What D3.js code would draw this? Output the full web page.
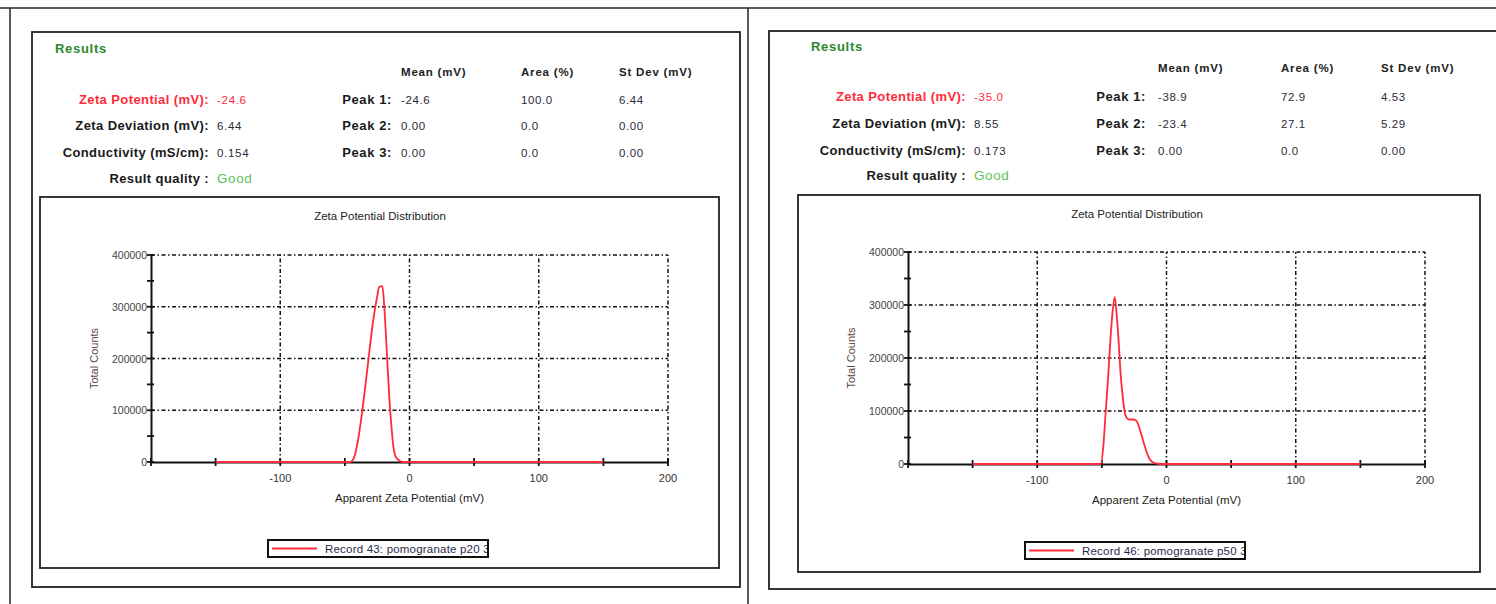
<!DOCTYPE html>
<html>
<head>
<meta charset="utf-8">
<script src="https://cdn.jsdelivr.net/npm/d3@7"></script>
<style>
  html, body { margin: 0; padding: 0; background: #fff; }
  svg { display: block; }
  text { font-family: "Liberation Sans", Arial, sans-serif; }
</style>
</head>
<body>
<svg id="sheet" width="1496" height="604"></svg>
<script>
// ---- Record 43: pomogranate p20 ----
const rec43Label = "Record 43: pomogranate p20 3";
const rec43Mv = [-150, -46, -43, -40, -37, -34, -31, -28, -25, -23.5, -21, -19.5, -17.5, -15.5, -14, -12.5, -11, -8, -5, 150];
const rec43Counts = [0, 0, 8000, 40000, 90000, 150000, 215000, 275000, 320000, 338000, 340000, 300000, 210000, 120000, 70000, 30000, 12000, 3000, 0, 0];
const rec43Summary = ["-24.6", "6.44", "0.154", "Good"];
const rec43Peaks = [["-24.6", "100.0", "6.44"], ["0.00", "0.0", "0.00"], ["0.00", "0.0", "0.00"]];

// ---- Record 46: pomogranate p50 ----
const rec46Label = "Record 46: pomogranate p50 3";
const rec46Mv = [-150, -51, -49, -47, -45, -43.5, -42, -40, -38.5, -37, -35.5, -34, -32.5, -31, -29, -26, -23.5, -21, -19, -17, -15, -13, -11, -8, -5, 150];
const rec46Counts = [0, 0, 30000, 100000, 170000, 230000, 280000, 315000, 280000, 230000, 170000, 130000, 100000, 88000, 84000, 84000, 82000, 68000, 52000, 35000, 20000, 9000, 4000, 1000, 0, 0];
const rec46Summary = ["-35.0", "8.55", "0.173", "Good"];
const rec46Peaks = [["-38.9", "72.9", "4.53"], ["-23.4", "27.1", "5.29"], ["0.00", "0.0", "0.00"]];

// ---- shared labels and ticks ----
const summaryLabels = ["Zeta Potential (mV):", "Zeta Deviation (mV):", "Conductivity (mS/cm):", "Result quality :"];
const peakLabels = ["Peak 1:", "Peak 2:", "Peak 3:"];
const peakHeaders = ["Mean (mV)", "Area (%)", "St Dev (mV)"];
const xMajorTicks = [-100, 0, 100, 200];
const xMinorTicks = [-200, -150, -100, -50, 0, 50, 100, 150, 200];
const yMajorTicks = [0, 100000, 200000, 300000, 400000];
const yMinorTicks = [0, 50000, 100000, 150000, 200000, 250000, 300000, 350000, 400000];
const chartTitle = "Zeta Potential Distribution";
const xTitle = "Apparent Zeta Potential (mV)";
const yTitle = "Total Counts";

const RED = "#ff2a3a";
const INK = "#2b2b3a";

const svg = d3.select("#sheet");

// page frame
svg.append("line").attr("x1", 0).attr("x2", 1496).attr("y1", 8).attr("y2", 8)
  .attr("stroke", "#222").attr("stroke-width", 1.5);
svg.append("line").attr("x1", 10).attr("x2", 10).attr("y1", 8).attr("y2", 604)
  .attr("stroke", "#222").attr("stroke-width", 1.5);
svg.append("line").attr("x1", 748).attr("x2", 748).attr("y1", 8).attr("y2", 604)
  .attr("stroke", "#222").attr("stroke-width", 1.5);

function drawPanel(p) {
  const g = svg.append("g");

  // results box
  g.append("rect").attr("x", p.box[0]).attr("y", p.box[1])
    .attr("width", p.box[2] - p.box[0]).attr("height", p.box[3] - p.box[1])
    .attr("fill", "none").attr("stroke", "#222").attr("stroke-width", 1.8);

  g.append("text").attr("x", p.resultsX).attr("y", p.rowY[0])
    .attr("font-size", 13).attr("font-weight", "bold").attr("fill", "#2c8a2c")
    .attr("letter-spacing", 0.7).text("Results");

  // column headers
  peakHeaders.forEach((h, i) => {
    g.append("text").attr("x", p.colX[i]).attr("y", p.rowY[1])
      .attr("font-size", 11.5).attr("font-weight", "bold").attr("fill", "#222")
      .attr("letter-spacing", 0.8).text(h);
  });

  // summary rows
  summaryLabels.forEach((lab, i) => {
    const y = p.rowY[2 + i];
    g.append("text").attr("x", p.labelEnd).attr("y", y).attr("text-anchor", "end")
      .attr("font-size", 13).attr("font-weight", "bold").attr("letter-spacing", 0.4)
      .attr("fill", i === 0 ? RED : "#1a1a1a").text(lab);
    const isGood = i === 3;
    g.append("text").attr("x", p.valueX).attr("y", y)
      .attr("font-size", isGood ? 13.5 : 11.5).attr("letter-spacing", isGood ? 0.6 : 0.7)
      .attr("fill", i === 0 ? RED : (isGood ? "#5cc45c" : INK))
      .text(p.summary[i]);
  });

  // peak rows
  peakLabels.forEach((lab, i) => {
    const y = p.rowY[2 + i];
    g.append("text").attr("x", p.peakLabelEnd).attr("y", y).attr("text-anchor", "end")
      .attr("font-size", 13).attr("font-weight", "bold").attr("letter-spacing", 0.6)
      .attr("fill", "#1a1a1a").text(lab);
    p.peaks[i].forEach((v, j) => {
      g.append("text").attr("x", p.colX[j]).attr("y", y)
        .attr("font-size", 11.5).attr("letter-spacing", 0.6).attr("fill", INK).text(v);
    });
  });

  // chart box
  const cb = p.chartBox;
  g.append("rect").attr("x", cb[0]).attr("y", cb[1])
    .attr("width", cb[2] - cb[0]).attr("height", cb[3] - cb[1])
    .attr("fill", "none").attr("stroke", "#222").attr("stroke-width", 1.8);

  g.append("text").attr("x", p.titleX).attr("y", p.titleY).attr("text-anchor", "middle")
    .attr("font-size", 11.5).attr("fill", "#222").text(chartTitle);

  const x = d3.scaleLinear().domain([-200, 200]).range([p.plot[0], p.plot[2]]);
  const y = d3.scaleLinear().domain([0, 400000]).range([p.plot[3], p.plot[1]]);

  // dash-dot grid
  const dash = "4,2.5,1.5,2.5";
  g.append("g").selectAll("line").data(yMajorTicks.filter(d => d > 0)).join("line")
    .attr("x1", x(-200)).attr("x2", x(200)).attr("y1", d => y(d)).attr("y2", d => y(d))
    .attr("stroke", "#111").attr("stroke-width", 1.5).attr("stroke-dasharray", dash);
  g.append("g").selectAll("line").data(xMajorTicks).join("line")
    .attr("x1", d => x(d)).attr("x2", d => x(d)).attr("y1", y(0)).attr("y2", y(400000))
    .attr("stroke", "#111").attr("stroke-width", 1.5).attr("stroke-dasharray", dash);

  // x axis
  const xAxis = d3.axisBottom(x).tickValues(xMinorTicks).tickSize(0).tickFormat("");
  const xa = g.append("g").attr("transform", `translate(0,${y(0)})`).call(xAxis);
  xa.select(".domain").attr("stroke", "#111").attr("stroke-width", 2);
  g.append("g").selectAll("line").data(xMinorTicks).join("line")
    .attr("x1", d => x(d)).attr("x2", d => x(d)).attr("y1", y(0) - 4).attr("y2", y(0) + 4)
    .attr("stroke", "#111").attr("stroke-width", 1.8);
  g.append("g").selectAll("text").data(xMajorTicks).join("text")
    .attr("x", d => x(d)).attr("y", y(0) + 20).attr("text-anchor", "middle")
    .attr("font-size", 11).attr("fill", "#333").text(d => String(d));

  // y axis
  const yAxis = d3.axisLeft(y).tickValues(yMinorTicks).tickSize(0).tickFormat("");
  const ya = g.append("g").attr("transform", `translate(${x(-200)},0)`).call(yAxis);
  ya.select(".domain").attr("stroke", "#111").attr("stroke-width", 2);
  g.append("g").selectAll("line").data(yMinorTicks).join("line")
    .attr("x1", x(-200) - 4).attr("x2", x(-200) + 3).attr("y1", d => y(d)).attr("y2", d => y(d))
    .attr("stroke", "#111").attr("stroke-width", 1.8);
  g.append("g").selectAll("text").data(yMajorTicks).join("text")
    .attr("x", x(-200) - 4).attr("y", d => y(d) + 4).attr("text-anchor", "end")
    .attr("font-size", 10.5).attr("fill", "#444").text(d => String(d));

  g.append("text").attr("transform", `translate(${p.yTitleX},${(y(0) + y(400000)) / 2}) rotate(-90)`)
    .attr("text-anchor", "middle").attr("font-size", 11).attr("fill", "#5a4848").text(yTitle);
  g.append("text").attr("x", x(0)).attr("y", p.xTitleY).attr("text-anchor", "middle")
    .attr("font-size", 11.5).attr("fill", "#222").text(xTitle);

  // distribution curve
  const pts = p.mv.map((v, i) => [v, p.counts[i]]);
  const line = d3.line().x(d => x(d[0])).y(d => y(d[1])).curve(d3.curveMonotoneX);
  g.append("path").datum(pts).attr("d", line)
    .attr("fill", "none").attr("stroke", RED).attr("stroke-width", 1.8)
    .attr("stroke-linejoin", "round");

  // legend
  const lg = p.legend;
  const clipId = "legclip" + p.id;
  g.append("clipPath").attr("id", clipId).append("rect")
    .attr("x", lg[0]).attr("y", lg[1]).attr("width", lg[2] - lg[0] - 1).attr("height", lg[3] - lg[1]);
  g.append("rect").attr("x", lg[0]).attr("y", lg[1])
    .attr("width", lg[2] - lg[0]).attr("height", lg[3] - lg[1])
    .attr("fill", "#fff").attr("stroke", "#111").attr("stroke-width", 2);
  g.append("line").attr("x1", lg[0] + 4).attr("x2", lg[0] + 49)
    .attr("y1", (lg[1] + lg[3]) / 2).attr("y2", (lg[1] + lg[3]) / 2)
    .attr("stroke", RED).attr("stroke-width", 1.8);
  g.append("text").attr("clip-path", `url(#${clipId})`)
    .attr("x", lg[0] + 57).attr("y", (lg[1] + lg[3]) / 2 + 4)
    .attr("font-size", 11.5).attr("fill", "#2a2a4a").attr("letter-spacing", 0.2)
    .text(p.label);
}

drawPanel({
  id: 43,
  box: [32, 32, 740, 587],
  resultsX: 55,
  rowY: [53, 76, 104, 130, 157, 183],
  labelEnd: 209, valueX: 217,
  peakLabelEnd: 392, colX: [401, 521, 619],
  summary: rec43Summary, peaks: rec43Peaks,
  chartBox: [40, 197, 719, 568],
  titleX: 380, titleY: 220,
  plot: [151, 255, 668, 462],
  yTitleX: 98, xTitleY: 502,
  mv: rec43Mv, counts: rec43Counts,
  legend: [268, 540, 488, 557], label: rec43Label
});

drawPanel({
  id: 46,
  box: [769, 31, 1500, 589],
  resultsX: 811,
  rowY: [51, 72, 101, 128, 155, 180],
  labelEnd: 966, valueX: 974,
  peakLabelEnd: 1146, colX: [1158, 1281, 1381],
  summary: rec46Summary, peaks: rec46Peaks,
  chartBox: [798, 195, 1480, 572],
  titleX: 1137, titleY: 218,
  plot: [908, 252, 1425, 464],
  yTitleX: 855, xTitleY: 504,
  mv: rec46Mv, counts: rec46Counts,
  legend: [1025, 542, 1245, 559], label: rec46Label
});
</script>
</body>
</html>
